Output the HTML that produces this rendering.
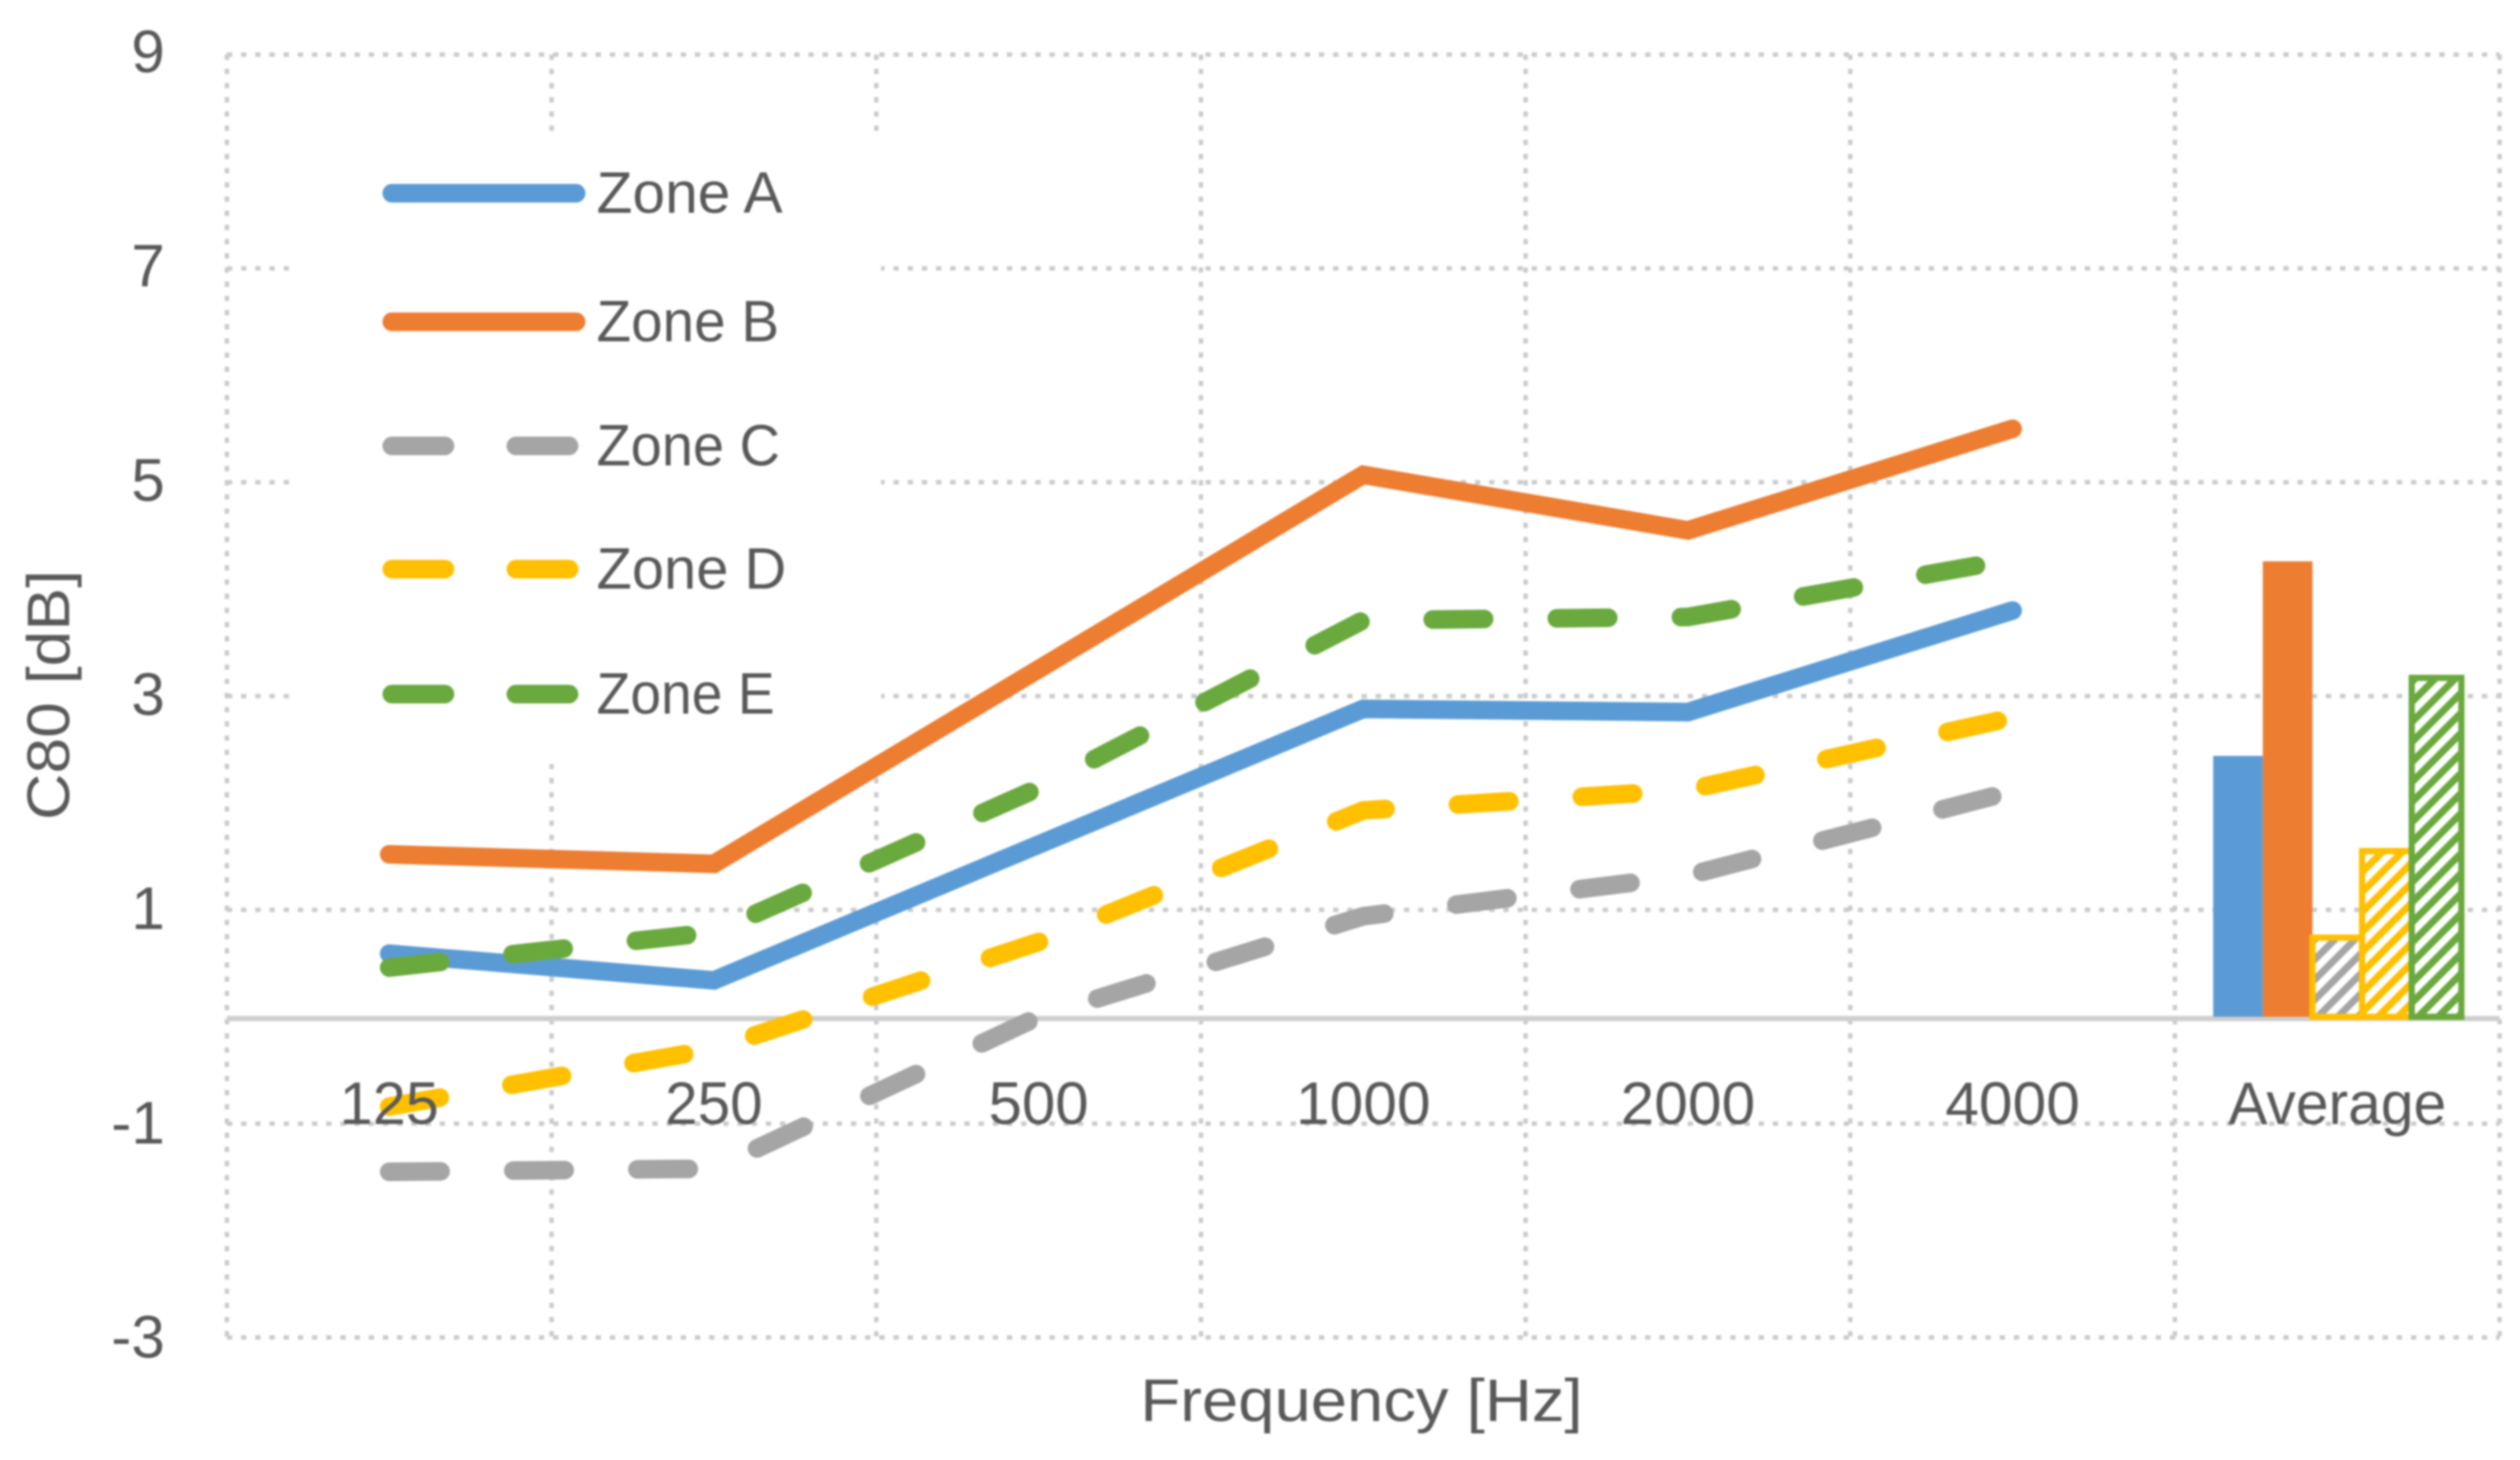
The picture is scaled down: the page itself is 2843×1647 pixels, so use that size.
<!DOCTYPE html>
<html lang="en">
<head>
<meta charset="utf-8">
<title>C80 by frequency and zone</title>
<style>
  html, body { margin: 0; padding: 0; background: #ffffff; }
  body { width: 2843px; height: 1647px; overflow: hidden; }
  #chart { display: block; filter: blur(1.1px); }
  text { font-family: "Liberation Sans", sans-serif; fill: #595959; }
</style>
</head>
<body>
<svg id="chart" xmlns="http://www.w3.org/2000/svg" width="2843" height="1647" viewBox="0 0 2843 1647">
  <defs>
    <pattern id="hatch-gray" width="16" height="16" patternUnits="userSpaceOnUse" patternTransform="rotate(-45)">
      <rect width="16" height="16" fill="#ffffff"/><rect width="16" height="8" fill="#a5a5a5"/>
    </pattern>
    <pattern id="hatch-yellow" width="16" height="16" patternUnits="userSpaceOnUse" patternTransform="rotate(-45)">
      <rect width="16" height="16" fill="#ffffff"/><rect width="16" height="8" fill="#ffc000"/>
    </pattern>
    <pattern id="hatch-green" width="16" height="16" patternUnits="userSpaceOnUse" patternTransform="rotate(-45)">
      <rect width="16" height="16" fill="#ffffff"/><rect width="16" height="8" fill="#6aa93e"/>
    </pattern>
  </defs>
  <g id="grid"></g>
  <rect x="326" y="150" width="668" height="712" fill="#ffffff"/>
  <line x1="256" x2="2820" y1="1149" y2="1149" stroke="#cfcfcf" stroke-width="6"/>
  <g id="bars"></g>
  <g id="lines"></g>
  <g id="xlabels"></g>
  <g id="ylabels"></g>
  <g id="legend"></g>
  <text x="1536" y="1603" text-anchor="middle" font-size="68" textLength="499" lengthAdjust="spacingAndGlyphs">Frequency [Hz]</text>
  <text transform="translate(78 784) rotate(-90)" text-anchor="middle" font-size="68" textLength="282" lengthAdjust="spacingAndGlyphs">C80 [dB]</text>
</svg>
<script>
const categories = ['125', '250', '500', '1000', '2000', '4000', 'Average'];
const yTicks = [-3, -1, 1, 3, 5, 7, 9];
const zoneNames = ['Zone A', 'Zone B', 'Zone C', 'Zone D', 'Zone E'];
const zoneA = [0.59, 0.34, 1.61, 2.88, 2.85, 3.80];
const zoneB = [1.52, 1.43, 3.25, 5.07, 4.55, 5.50];
const zoneC = [-1.45, -1.42, 0.00, 0.94, 1.32, 2.11];
const zoneD = [-0.84, -0.30, 0.70, 1.93, 2.12, 2.80];
const zoneE = [0.46, 0.79, 2.14, 3.71, 3.74, 4.28];
const averages = [2.44, 4.26, 0.74, 1.55, 3.17];

const NS = 'http://www.w3.org/2000/svg';
const plotLeft = 256, plotRight = 2820, yZero = 1147, yUnit = 120.6;
const bandWidth = (plotRight - plotLeft) / categories.length;
const barWidth = 56;
const xBand = i => plotLeft + bandWidth * i;
const xCenter = i => xBand(i) + bandWidth / 2;
const yScale = v => yZero - v * yUnit;

function make(tag, attrs, parent) {
  const el = document.createElementNS(NS, tag);
  for (const key in attrs) el.setAttribute(key, attrs[key]);
  parent.appendChild(el);
  return el;
}

const gridGroup = document.getElementById('grid');
const gridTop = yScale(yTicks[yTicks.length - 1]);
const gridBottom = yScale(yTicks[0]);
const gridStyle = { stroke: '#c9cbcd', 'stroke-width': 5, 'stroke-dasharray': '6 10', fill: 'none' };
yTicks.forEach(t => {
  const el = make('line', Object.assign({ x1: plotLeft, x2: plotRight, y1: yScale(t), y2: yScale(t) }, gridStyle), gridGroup);
  
  
});
for (let i = 0; i <= categories.length; i++) {
  const el = make('line', Object.assign({ x1: xBand(i), x2: xBand(i), y1: gridTop, y2: gridBottom }, gridStyle), gridGroup);
  
  
}

const barFills = ['#5b9bd5', '#ed7d31', 'url(#hatch-gray)', 'url(#hatch-yellow)', 'url(#hatch-green)'];
const barStrokes = ['none', 'none', '#ffc000', '#ffc000', '#6aa93e'];
const barsGroup = document.getElementById('bars');
const barStart = xCenter(6) - barWidth * averages.length / 2;
averages.forEach((v, i) => {
  const top = yScale(v);
  const bar = make('rect', {
    x: barStart + i * barWidth,
    y: top,
    width: barWidth,
    height: yScale(0) - top,
    fill: barFills[i],
    stroke: barStrokes[i],
    'stroke-width': 7
  }, barsGroup);
  
  
});

const lineSeries = [zoneA, zoneB, zoneC, zoneD, zoneE];
const lineColors = ['#5b9bd5', '#ed7d31', '#a5a5a5', '#ffc000', '#6aa93e'];
const lineDashes = ['none', 'none', '58 82', '58 82', '58 82'];
const drawOrder = [0, 1, 2, 3, 4];
const linesGroup = document.getElementById('lines');
drawOrder.forEach(s => {
  const pts = lineSeries[s].map((v, i) => xCenter(i).toFixed(1) + ',' + yScale(v).toFixed(1)).join(' ');
  const line = make('polyline', {
    points: pts,
    fill: 'none',
    stroke: lineColors[s],
    'stroke-width': 21,
    'stroke-linecap': 'round',
    'stroke-linejoin': 'miter',
    'stroke-dasharray': lineDashes[s]
  }, linesGroup);
  
  
});

const xLabelWidths = [112, 110, 113, 152, 152, 152, 246];
const xGroup = document.getElementById('xlabels');
categories.forEach((c, i) => {
  const t = make('text', {
    x: xCenter(i),
    y: 1268,
    'text-anchor': 'middle',
    'font-size': 68,
    textLength: xLabelWidths[i],
    lengthAdjust: 'spacingAndGlyphs'
  }, xGroup);
  t.textContent = c;
  
  
});

const yGroup = document.getElementById('ylabels');
yTicks.forEach(v => {
  const t = make('text', { x: 186, y: yScale(v) + 22 - v * 0.25, 'text-anchor': 'end', 'font-size': 68 }, yGroup);
  t.textContent = String(v);
  
  
});

const legendY = [218, 363, 503, 642, 783];
const legendTextWidths = [210, 206, 207, 214, 201];
const legendGroup = document.getElementById('legend');
zoneNames.forEach((name, i) => {
  const key = make('line', {
    x1: 442,
    x2: i < 2 ? 650 : 643,
    y1: legendY[i],
    y2: legendY[i],
    stroke: lineColors[i],
    'stroke-width': 21,
    'stroke-linecap': 'round',
    'stroke-dasharray': i < 2 ? 'none' : '60 80'
  }, legendGroup);
  
  
  const label = make('text', {
    x: 673,
    y: legendY[i] + 22,
    'font-size': 66,
    textLength: legendTextWidths[i],
    lengthAdjust: 'spacingAndGlyphs'
  }, legendGroup);
  label.textContent = name;
  
  
});
</script>
</body>
</html>
